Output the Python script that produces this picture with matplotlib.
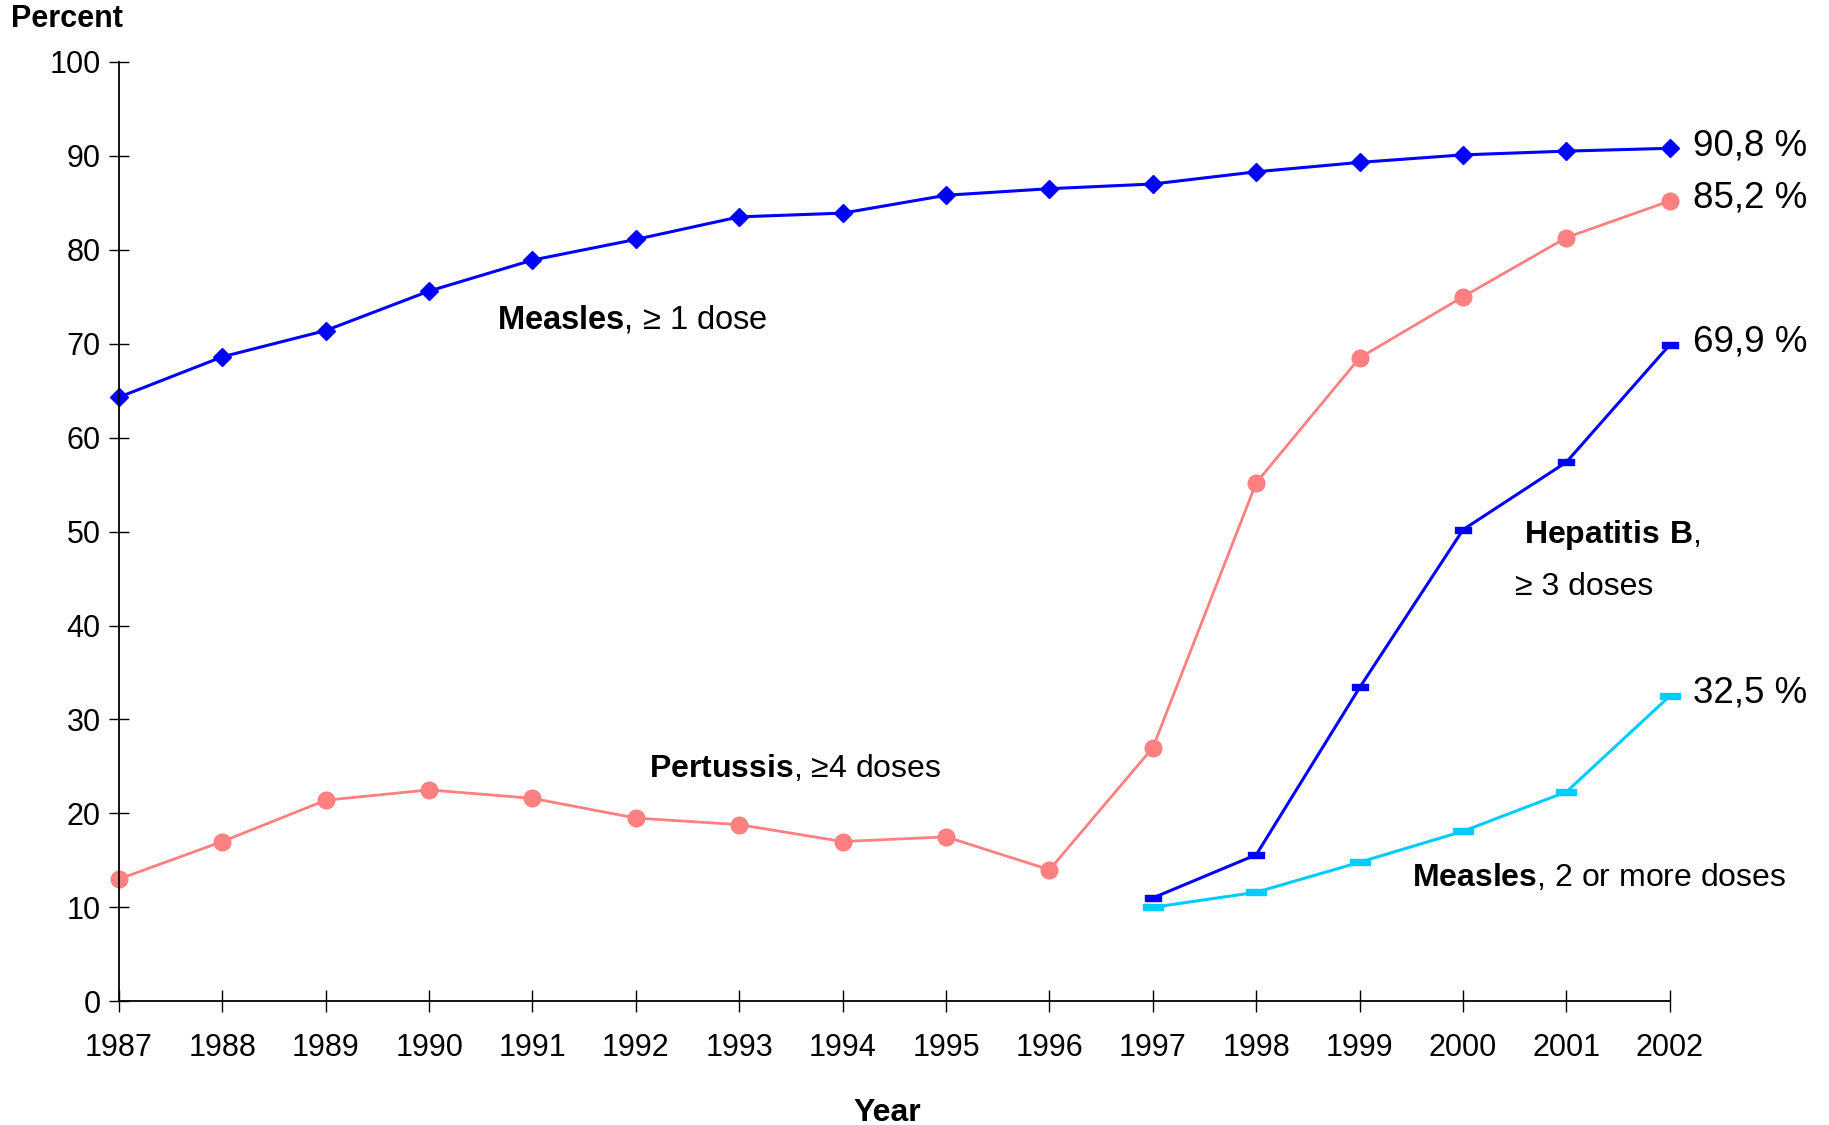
import numpy as np
import matplotlib.pyplot as plt

plt.rcParams['font.family'] = ['Liberation Sans', 'DejaVu Sans']
plt.rcParams['mathtext.fontset'] = 'custom'
plt.rcParams['mathtext.rm'] = 'Liberation Sans'
plt.rcParams['mathtext.bf'] = 'Liberation Sans:bold'

years = list(range(1987, 2003))
measles_1 = [64.3, 68.6, 71.4, 75.6, 78.9, 81.1, 83.5, 83.9, 85.8, 86.5,
             87.0, 88.3, 89.3, 90.1, 90.5, 90.8]
pertussis = [13.0, 17.0, 21.4, 22.5, 21.6, 19.5, 18.8, 17.0, 17.5, 14.0,
             27.0, 55.2, 68.5, 75.0, 81.3, 85.2]
years_late = list(range(1997, 2003))
hepatitis_b = [11.0, 15.6, 33.4, 50.2, 57.4, 69.9]
measles_2 = [10.0, 11.6, 14.8, 18.1, 22.3, 32.5]

blue = '#0000FF'
pink = '#FF8080'
cyan = '#00CCFF'

# flat dash marker for the late series
dash = [(-1, -0.35), (1, -0.35), (1, 0.35), (-1, 0.35), (-1, -0.35)]

fig = plt.figure(figsize=(18.29, 11.25), dpi=100)
ax = fig.add_axes([0.065, 0.110, 0.848, 0.835])

ax.plot(years, measles_1, color=blue, lw=2.2, marker='D', ms=9, clip_on=False)
ax.plot(years, pertussis, color=pink, lw=2.0, marker='o', ms=12, clip_on=False)
ax.plot(years_late, hepatitis_b, color=blue, lw=2.2, marker=dash, ms=12, clip_on=False)
ax.plot(years_late, measles_2, color=cyan, lw=2.2, marker=dash, ms=14, clip_on=False)

ax.set_xlim(1987, 2002)
ax.set_ylim(0, 100)
ax.set_xticks(years)
ax.set_yticks(range(0, 101, 10))
ax.tick_params(axis='both', labelsize=22, direction='inout', length=16, width=1)
ax.tick_params(axis='x', pad=15)
ax.tick_params(axis='y', pad=6, length=14)
for s in ('top', 'right'):
    ax.spines[s].set_visible(False)
for s in ('left', 'bottom'):
    ax.spines[s].set_linewidth(1.3)

# end-point values
for val in [measles_1[-1], pertussis[-1], hepatitis_b[-1], measles_2[-1]]:
    ax.annotate(f'{val:.1f} %'.replace('.', ','), xy=(2002, val),
                xytext=(17, 2), textcoords='offset points', fontsize=26.5,
                va='center', ha='left', annotation_clip=False)

# series captions
ax.text(1990.66, 72.6, r'$\mathbf{Measles}$, ≥ 1 dose', fontsize=23.5, va='center', ha='left')
ax.text(1992.13, 24.8, r'$\mathbf{Pertussis}$, ≥4 doses', fontsize=23, va='center', ha='left')
ax.text(2000.59, 49.6, r'$\mathbf{Hepatitis\ B}$,', fontsize=23, va='center', ha='left')
ax.text(2000.5, 44.1, '≥ 3 doses', fontsize=23, va='center', ha='left')
ax.text(1999.51, 13.2, r'$\mathbf{Measles}$, 2 or more doses', fontsize=23, va='center', ha='left')

fig.text(0.006, 0.983, 'Percent', fontsize=22, fontweight='bold', va='center', ha='left')
fig.text(0.485, 0.011, 'Year', fontsize=23, fontweight='bold', va='center', ha='center')

fig.savefig('out.png', dpi=100)
